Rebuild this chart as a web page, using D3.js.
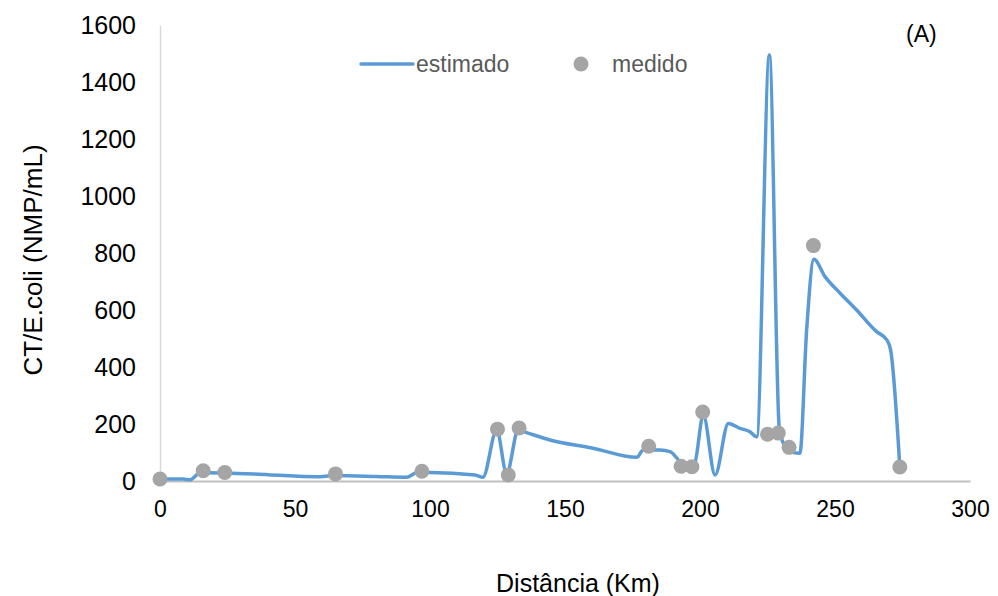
<!DOCTYPE html>
<html>
<head>
<meta charset="utf-8">
<script src="https://cdn.jsdelivr.net/npm/d3@7"></script>
<style>
  html, body { margin: 0; padding: 0; background: #fff; }
  svg { display: block; font-family: Arial, "Liberation Sans", sans-serif; }
</style>
</head>
<body>
<svg id="chart" width="998" height="596"></svg>
<script>
// Estimated profile: distance (km) and CT/E.coli (NMP/mL)
const estDist = [0, 8.5, 11, 14.8, 18, 24.4, 40, 58, 64.4, 80, 91.4, 95, 100, 116.7, 119.6,
  124.7, 128.4, 132.7, 136.3, 144.4, 160, 176.6, 179, 185.2, 188.9, 192.6, 195, 198,
  201.2, 205.6, 210.5, 214.8, 218.5, 221, 225.7, 229.4, 230.9, 233.3, 237, 239.5,
  242.2, 246.3, 251.9, 258, 265.4, 269.2, 270.6, 274];
const estValue = [7, 7, 4, 28, 29, 28, 22, 15, 19, 16, 13, 29, 30, 21, 13,
  179, 27, 179, 168, 144, 116, 83, 109, 109, 103, 68, 48, 62,
  232, 21, 202, 185, 173, 155, 1495, 179, 132, 103, 97, 530,
  778, 717, 659, 600, 524, 495, 460, 50];

// Measured samples
const medDist = [0, 16, 24, 65, 97, 125, 129, 133, 181, 193, 197, 201, 225, 229, 233, 242, 274];
const medValue = [7, 36, 30, 25, 34, 182, 21, 186, 122, 52, 50, 242, 164, 168, 118, 826, 49];

const xTicks = [0, 50, 100, 150, 200, 250, 300];
const yTicks = [0, 200, 400, 600, 800, 1000, 1200, 1400, 1600];

const seriesNames = ["estimado", "medido"];
const lineColor = "#5B9BD5";
const dotColor = "#A5A5A5";

const svg = d3.select("#chart");
const plotLeft = 160, plotRight = 970, plotTop = 25, plotBottom = 481;

const x = d3.scaleLinear().domain([0, 300]).range([plotLeft, plotRight]);
const y = d3.scaleLinear().domain([0, 1600]).range([plotBottom, plotTop]);

// axes
const xAxis = svg.append("g")
  .attr("transform", `translate(0,${plotBottom})`)
  .call(d3.axisBottom(x).tickValues(xTicks).tickFormat(d3.format("d")).tickSize(0).tickPadding(20));
xAxis.select(".domain").attr("stroke", "#BFBFBF").attr("stroke-width", 2);
xAxis.selectAll("text").attr("font-size", 23).attr("fill", "#000")
  .attr("font-family", "Arial, 'Liberation Sans', sans-serif");

const yAxis = svg.append("g")
  .attr("transform", `translate(${plotLeft},0)`)
  .call(d3.axisLeft(y).tickValues(yTicks).tickFormat(d3.format("d")).tickSize(0).tickPadding(24));
yAxis.select(".domain").attr("stroke", "#D9D9D9").attr("stroke-width", 1.5);
yAxis.selectAll("text").attr("font-size", 25).attr("fill", "#000")
  .attr("font-family", "Arial, 'Liberation Sans', sans-serif");

// estimated curve
const line = d3.line()
  .x((d, i) => x(estDist[i]))
  .y((d, i) => y(estValue[i]))
  .curve(d3.curveMonotoneX);

svg.append("path")
  .datum(estValue)
  .attr("d", line)
  .attr("fill", "none")
  .attr("stroke", lineColor)
  .attr("stroke-width", 3.5)
  .attr("stroke-linejoin", "round")
  .attr("stroke-linecap", "round");

// measured points
svg.append("g").selectAll("circle")
  .data(medValue)
  .join("circle")
  .attr("cx", (d, i) => x(medDist[i]))
  .attr("cy", d => y(d))
  .attr("r", 7.5)
  .attr("fill", dotColor);

// axis titles
svg.append("text")
  .attr("x", 578).attr("y", 592)
  .attr("text-anchor", "middle")
  .attr("font-size", 25).attr("fill", "#000")
  .text("Distância (Km)");

svg.append("text")
  .attr("transform", "translate(42,260) rotate(-90)")
  .attr("text-anchor", "middle")
  .attr("font-size", 26).attr("fill", "#000")
  .text("CT/E.coli (NMP/mL)");

// panel tag
svg.append("text")
  .attr("x", 906).attr("y", 42)
  .attr("font-size", 23).attr("fill", "#000")
  .text("(A)");

// legend
const lg = svg.append("g");
lg.append("line")
  .attr("x1", 361).attr("x2", 413).attr("y1", 64).attr("y2", 64)
  .attr("stroke", lineColor).attr("stroke-width", 3.5).attr("stroke-linecap", "round");
lg.append("text")
  .attr("x", 416).attr("y", 72)
  .attr("font-size", 23).attr("fill", "#595959")
  .text(seriesNames[0]);
lg.append("circle")
  .attr("cx", 581).attr("cy", 64).attr("r", 7.5).attr("fill", dotColor);
lg.append("text")
  .attr("x", 612).attr("y", 72)
  .attr("font-size", 23).attr("fill", "#595959")
  .text(seriesNames[1]);
</script>
</body>
</html>
